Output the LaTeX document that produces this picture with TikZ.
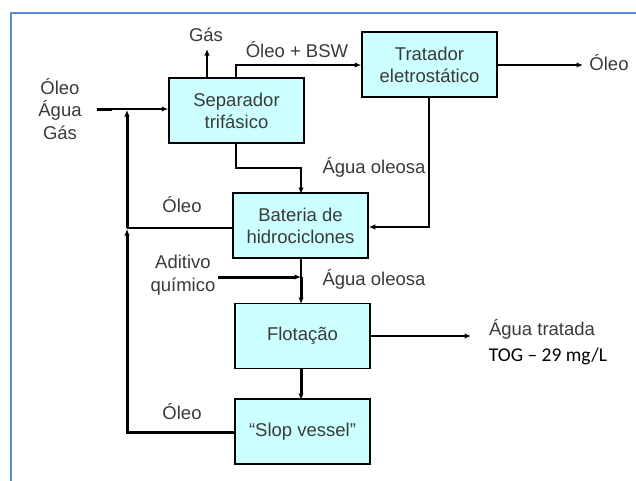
\documentclass[tikz,border=0pt]{standalone}
\usepackage{fontspec}
\setmainfont{Liberation Sans}
\newfontfamily\calib{Carlito}
\usetikzlibrary{arrows.meta}
\definecolor{boxfill}{HTML}{CCFFFF}
\definecolor{frameblue}{HTML}{5B8BD0}
\definecolor{txt}{HTML}{3A3A3A}
\tikzset{
  unit/.style={draw=black, line width=1.5pt, fill=boxfill, minimum width=135pt, minimum height=65pt, inner sep=0pt, align=center, font=\fontsize{18.5}{22}\selectfont, text=txt},
  lbl/.style={font=\fontsize{18.5}{22.5}\selectfont, text=txt, inner sep=0pt, align=center},
  flow/.style={line width=1.4pt, -{Latex[length=6.5pt,width=5.5pt]}},
  thin/.style={line width=1.4pt},
  thick flow/.style={line width=3pt, -{Latex[length=6.5pt,width=5.5pt]}},
}
\begin{document}
\begin{tikzpicture}[x=1pt,y=-1pt]
\useasboundingbox (0,0) rectangle (636,480);
\draw[frameblue, line width=2.2pt] (11,481) -- (11,13) -- (637,13);

\node[unit] (sep)  at (236.5,110.5) {Separador\\trifásico};
\node[unit] (trat) at (429.5,64.5) {Tratador\\eletrostático};
\node[unit] (bat)  at (300.5,225.5) {Bateria de\\hidrociclones};
\node[unit] (flot) at (302.5,336) {Flotação};
\node[unit] (slop) at (302.5,431.5) {“Slop vessel”};

% inlet
\node[lbl] (in) at (60,109) {Óleo\\Água\\Gás};
\coordinate (inA) at (97,109);
\coordinate (inB) at (112,109);
\draw[line width=3pt] (inA) -- (inB);
\draw[flow] (inB) -- (sep.west |- inB);

% gas
\node[lbl] (gas) at (206,35) {Gás};
\coordinate (gasS) at (207,78);
\draw[flow] (gasS) -- (207,49);

% oleo + BSW
\node[lbl] (bsw) at (297,50) {Óleo + BSW};
\coordinate (bswS) at (236,78);
\draw[flow] (bswS) |- (trat.west |- 0,65);

% tratador -> oleo
\node[lbl] (oleoR) at (609,63) {Óleo};
\coordinate (oleoRe) at (583,65);
\draw[flow] (trat.east |- oleoRe) -- (oleoRe);

% separator -> bateria
\coordinate (sepB) at (236,143);
\draw[flow] (sepB) -- (236,168) -| (301,194);

% tratador -> bateria
\node[lbl] (ao1) at (374,167) {Água oleosa};
\coordinate (tratB) at (429,97);
\draw[flow] (tratB) |- (bat.east |- 0,227);

% bateria -> oleo return
\node[lbl] (ol1) at (182,205) {Óleo};
\coordinate (retJ1) at (127,228);
\coordinate (retJ0) at (127,110);
\coordinate (retBot) at (127,432);
\draw[thin] (bat.west |- retJ1) -- (retJ1);
\draw[thick flow] (retBot) -- (127,229);
\draw[thick flow] (retJ1) -- (retJ0);

% bateria -> flotacao
\node[lbl] (aditivo) at (183,275) {Aditivo\\químico};
\node[lbl] (ao2) at (374,279) {Água oleosa};
\coordinate (jAd) at (301,277);
\coordinate (adS) at (218,277);
\draw[thin] (301,257) -- (jAd);
\draw[thick flow] (adS) -- (jAd);
\draw[thick flow] (jAd) -- (301,304);

% flotacao -> agua tratada
\node[lbl] (at) at (542,329) {Água tratada};
\node[font=\calib\fontsize{19.5}{22}\selectfont, inner sep=0pt] (tog) at (548,356) {TOG – 29 mg/L};
\coordinate (atE) at (471,336);
\draw[flow] (flot.east) -- (atE);

% flotacao -> slop
\draw[thick flow] (301,368) -- (301,400);

% slop -> return
\node[lbl] (ol2) at (182,412) {Óleo};
\draw[line width=3pt] (slop.west |- retBot) -- ([xshift=-1.5pt]retBot);
\end{tikzpicture}
\end{document}
